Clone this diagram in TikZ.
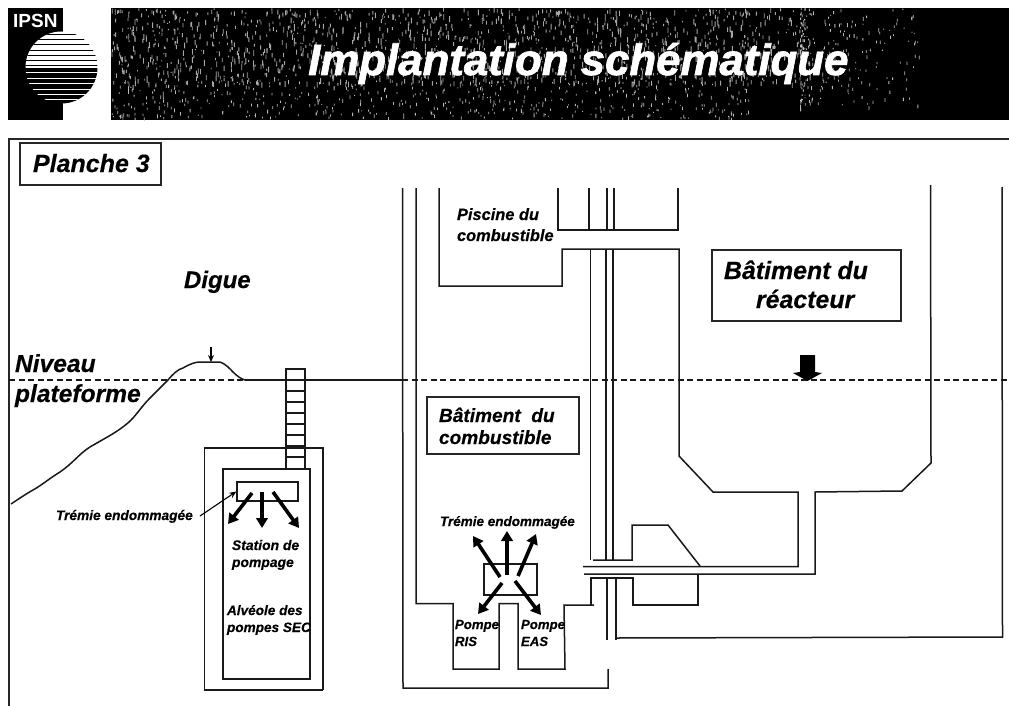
\documentclass[tikz,border=0pt]{standalone}
\usepackage{fontspec}
\setmainfont{Liberation Sans}[BoldItalicFeatures={FakeBold=0.35}]
\newfontfamily\titlefont{Liberation Sans}[BoldItalicFeatures={FakeBold=1.6}]
\usetikzlibrary{arrows.meta}
\tikzset{
  wall/.style={draw=black!90,line width=1.5pt,line join=miter},
  lbl/.style={font=\fontsize{#1}{#1}\selectfont\bfseries\itshape,inner sep=0pt,outer sep=0pt,text=black,anchor=base west},
  frameBox/.style={draw=black!85,line width=1.4pt,fill=white,inner sep=0pt},
  blast/.style={draw=black,line width=3.6pt,-{Triangle[width=11.5pt,length=10pt]}},
  thinarrow/.style={draw=black,line width=1.1pt,-{Stealth[width=6pt,length=7pt]}},
  levelline/.style={draw=black!90,line width=1.5pt,dash pattern=on 6pt off 3.5pt},
}
\begin{document}
\begin{tikzpicture}[x=1pt,y=-1pt]
\useasboundingbox (0,0) rectangle (1009,706);
\fill[white] (0,0) rectangle (1009,706);
% header
\fill[black] (111,8) rectangle (1009,120);
\pgfmathsetseed{31}
\fill[gray!70]
  \foreach \i in {1,...,1500} {
    [/utils/exec={\pgfmathsetmacro\px{111+rnd*700}\pgfmathsetmacro\py{8+rnd*75}\pgfmathsetmacro\ph{1+rnd*5}}]
    (\px,\py) rectangle ++(0.9,\ph)
  };
\fill[gray!55]
  \foreach \i in {1,...,500} {
    [/utils/exec={\pgfmathsetmacro\px{111+rnd*640}\pgfmathsetmacro\py{80+rnd*38}\pgfmathsetmacro\ph{1+rnd*3}}]
    (\px,\py) rectangle ++(0.8,\ph)
  };
\fill[gray!55]
  \foreach \i in {1,...,220} {
    [/utils/exec={\pgfmathsetmacro\pa{rnd}\pgfmathsetmacro\px{800+\pa*\pa*120}\pgfmathsetmacro\py{8+rnd*100}\pgfmathsetmacro\ph{1+rnd*3}}]
    (\px,\py) rectangle ++(0.8,\ph)
  };
\node[font=\titlefont\fontsize{43.8}{44}\selectfont\bfseries\itshape,text=white,inner sep=0pt,anchor=base west] (title) at (308,75) {Implantation schématique};
% logo
\fill[black] (8,8) rectangle (63,120);
\begin{scope}
  \clip (61.5,67.5) circle (36);
  \fill[white] (20,30) rectangle (100,68);
  \fill[black] (20,68) rectangle (100,105);
  \foreach \y in {34.7,39.7,44.7,50,55,60,65} \draw[black,line width=.9pt] (20,\y) -- (100,\y);
  \foreach \y in {72.7,78,83.3,89,94,99} \draw[white,line width=.8pt] (20,\y) -- (100,\y);
\end{scope}
\node[font=\fontsize{19}{19}\selectfont\bfseries,text=white,inner sep=0pt,anchor=base west] (ipsn) at (13,28) {IPSN};
% frame
\draw[black!85,line width=1.4pt] (9,706) -- (9,139) -- (1009,139);
\node[frameBox,minimum width=141pt,minimum height=42pt] (planche) at (90.5,164) {};
\node[lbl=25] (plancheT) at (33,172) {Planche 3};
% level line
\draw[levelline] (9,380) -- (245,380);
\draw[wall] (245,380) -- (287,380);
\draw[wall] (305,380) -- (402,380);
\draw[levelline] (402,380) -- (1009,380);
% dyke
\draw[wall] (11,504) .. controls (20,498) and (26,494) .. (33,490)
  .. controls (42,485) and (50,478) .. (60,472)
  .. controls (72,464) and (80,453) .. (90,447)
  .. controls (105,438) and (122,430) .. (133,418)
  .. controls (140,410) and (143,405) .. (150,398)
  .. controls (157,391) and (162,386) .. (168,380)
  .. controls (172,375) and (178,369) .. (183,368)
  .. controls (190,364) and (195,362) .. (200,362)
  -- (220,362) .. controls (226,364) and (230,369) .. (233,372)
  .. controls (237,376) and (241,379) .. (245,380);
\coordinate (crestA) at (211,347);
\coordinate (crestB) at (211,362);
\draw[thinarrow] (crestA) -- (crestB);
% ladder
\draw[wall] (286,468) -- (286,369) -- (305,369) -- (305,468);
\foreach \y in {380,391,402,413,424,435,446,457} \draw[wall,line width=1.2pt] (286,\y) -- (305,\y);
% pumping station
\draw[wall] (323,690) -- (204.5,690) -- (204.5,448) -- (323,448) -- (323,690);
\draw[wall] (223,469) rectangle (310,679);
\node[draw=black!90,line width=1.4pt,fill=white,minimum width=61pt,minimum height=19pt,inner sep=0pt] (hopperA) at (267.5,491.5) {};
\coordinate (a0) at (252,493); \coordinate (a1) at (228,524);
\coordinate (b0) at (262,492); \coordinate (b1) at (262,528);
\coordinate (c0) at (273,492); \coordinate (c1) at (299,528);
\draw[blast] (a0) -- (a1);
\draw[blast] (b0) -- (b1);
\draw[blast] (c0) -- (c1);
\coordinate (tl) at (200,516);
\draw[thinarrow] (tl) -- (hopperA.west);
\node[lbl=13.7] (t1) at (56,520) {Trémie endommagée};
\node[lbl=13.9] (s1) at (232,550) {Station de};
\node[lbl=13.9] (s2) at (232,567) {pompage};
\node[lbl=13.6] (al1) at (227,615) {Alvéole des};
\node[lbl=13.6] (al2) at (227,632) {pompes SEC};
\node[lbl=24.6] (n1) at (15,372) {Niveau};
\node[lbl=24.6] (n2) at (15,402) {plateforme};
\node[lbl=24] (digue) at (184,288) {Digue};
% fuel building outer walls
\draw[wall] (402.5,188) -- (403,688) -- (608,688) -- (608,669);
\draw[wall] (416,188) -- (416,603.5) -- (453,603.5) -- (453,669) -- (499,669) -- (499,603.5) -- (518,603.5) -- (518,669) -- (565,669) -- (564,605) -- (594,605);
\draw[wall] (591,605) -- (591,578) -- (634,578);
\draw[wall] (633,578) -- (633,605) -- (698,605) -- (698,575);
% pool
\draw[wall] (439,188) -- (439,286) -- (562,286) -- (562,249) -- (679,249) -- (679,456) -- (713,492) -- (798,492) -- (798,566.5) -- (583,566.5);
\draw[wall] (558,188) -- (558,230) -- (678,230) -- (678,188);
\draw[wall] (584,574) -- (815,574) -- (815,492) -- (902,491) -- (931,463) -- (930.5,185);
% vertical pipes
\foreach \x in {589,607,614} \draw[wall] (\x,188) -- (\x,230);
\foreach \x in {590.5,606,613} \draw[wall] (\x,249) -- (\x,560);
\draw[wall] (593,560) -- (632,560) -- (632,525) -- (668,525) -- (700,566);
\draw[wall] (607,578) -- (607,640);
\draw[wall] (616,578) -- (616,640);
\draw[wall] (617,638) -- (1002.5,637) -- (1002,187);
% fuel hopper
\node[draw=black!90,line width=1.4pt,fill=white,minimum width=53pt,minimum height=31pt,inner sep=0pt] (hopperB) at (510.5,579.5) {};
\coordinate (h1a) at (500,577); \coordinate (h1b) at (473,536);
\coordinate (h2a) at (507,575); \coordinate (h2b) at (507,531);
\coordinate (h3a) at (518,576); \coordinate (h3b) at (536,534);
\coordinate (h4a) at (502,583); \coordinate (h4b) at (478,614);
\coordinate (h5a) at (515,581); \coordinate (h5b) at (541,615);
\foreach \p/\q in {h1a/h1b,h2a/h2b,h3a/h3b,h4a/h4b,h5a/h5b} \draw[blast] (\p) -- (\q);
\node[lbl=13.5] (t2) at (440,526) {Trémie endommagée};
\node[lbl=13.2] (pr1) at (455,629) {Pompe};
\node[lbl=13.2] (pr2) at (455,646) {RIS};
\node[lbl=13.2] (pe1) at (521,629) {Pompe};
\node[lbl=13.2] (pe2) at (521,646) {EAS};
\node[lbl=16.4] (pc1) at (457,220) {Piscine du};
\node[lbl=16.4] (pc2) at (457,241) {combustible};
% label boxes
\node[frameBox,minimum width=152pt,minimum height=57pt] (bc) at (503,425.5) {};
\node[lbl=19.1] (bc1) at (439,422) {Bâtiment\ \ du};
\node[lbl=19.1] (bc2) at (439,444) {combustible};
\node[frameBox,minimum width=189pt,minimum height=71pt] (br) at (806.5,285.5) {};
\node[lbl=24.9] (br1) at (724,279) {Bâtiment du};
\node[lbl=24.9] (br2) at (756,308) {réacteur};
% big arrow
\fill[black] (800,355) -- (815,355) -- (815,372) -- (822,373) -- (807.5,381) -- (793,373) -- (800,372) -- cycle;
\end{tikzpicture}
\end{document}
